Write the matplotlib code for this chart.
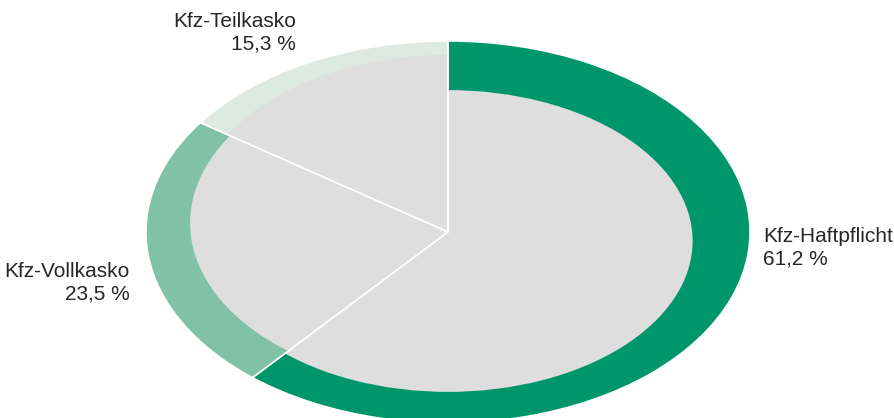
import matplotlib.pyplot as plt
import matplotlib.patches as patches

# Anteile der Kfz-Sparten (in %)
sparten = ['Kfz-Haftpflicht', 'Kfz-Vollkasko', 'Kfz-Teilkasko']
anteile = [61.2, 23.5, 15.3]

FARBEN = ['#00966B', '#80C1A7', '#DCEAE2']
GRAU = '#DEDEDE'
TEXT = '#262626'

# Innere graue Fläche je Segment: Mittelpunkt und Halbachsen (x, y)
innen = [((0.0, -0.047), 0.81, 0.79),
         ((0.0, 0.047), 0.854, 0.854),
         ((0.0, 0.08), 0.847, 0.847)]

# Beschriftungen: Position und Ausrichtung
label_pos = [(1.043, -0.082, 'left'),
             (-1.053, -0.265, 'right'),
             (-0.503, 1.045, 'right')]

fig = plt.figure(figsize=(8.95, 4.18), dpi=100)
ax = fig.add_axes([0, 0, 1, 1])

wedges, _ = ax.pie(anteile, colors=FARBEN, startangle=90, counterclock=False,
                   radius=1.0, wedgeprops=dict(linewidth=0))

# graue Innenfläche, auf das jeweilige Segment beschnitten
for w, (c, rx, ry) in zip(wedges, innen):
    e = patches.Ellipse(c, 2 * rx, 2 * ry, facecolor=GRAU, edgecolor='none', zorder=3)
    ax.add_patch(e)
    e.set_clip_path(w)

# weiße Trennlinien obenauf
ax.pie(anteile, startangle=90, counterclock=False, radius=1.0,
       wedgeprops=dict(fill=False, edgecolor='white', linewidth=1.1, zorder=5))

for name, wert, (x, y, ha) in zip(sparten, anteile, label_pos):
    txt = f"{name}\n{wert:.1f} %".replace('.', ',')
    ax.text(x, y, txt, ha=ha, va='center', fontsize=15, color=TEXT,
            family='Liberation Sans', linespacing=1.25, multialignment=ha)

ax.set_aspect('auto')
ax.set_xlim(-448 / 302, 447 / 302)
ax.set_ylim(-186 / 191, 232 / 191)
ax.axis('off')

fig.savefig('out.png', dpi=100, facecolor='white')
